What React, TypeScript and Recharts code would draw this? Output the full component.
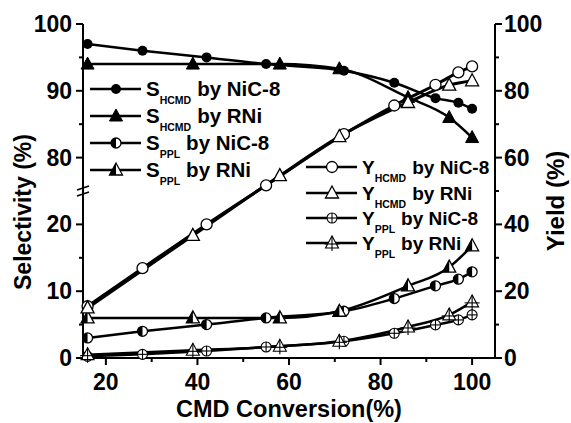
import React from "react";
import { Legend, Line, LineChart, XAxis, YAxis } from "recharts";

// conversions (%) per catalyst
const nicConv = [16, 28, 42, 55, 72, 83, 92, 97, 100];
const rniConv = [16, 39, 58, 71, 86, 95, 100];

// selectivity (%), left broken axis
const sHcmdNic = [97, 96, 95, 94, 93, 91.2, 88.9, 88.2, 87.3];
const sPplNic = [3, 4, 5, 6, 7, 8.9, 10.8, 11.8, 12.9];
const sHcmdRni = [94, 94, 94, 93.3, 89, 86, 83];
const sPplRni = [6, 6, 6, 7, 10.8, 13.6, 16.8];

// yield (%), right axis
const yHcmdNic = [15.5, 26.9, 40, 51.7, 67, 75.6, 81.8, 85.5, 87.3];
const yPplNic = [0.5, 1.1, 2.1, 3.3, 5, 7.4, 9.9, 11.4, 12.9];
const yHcmdRni = [15, 36.7, 54.6, 66.3, 76.5, 81.7, 83];
const yPplRni = [1, 2.3, 3.5, 5, 9.3, 12.9, 16.8];

const xTicks = [20, 30, 40, 50, 60, 70, 80, 90, 100];
const rightTicks = [0, 10, 20, 30, 40, 50, 60, 70, 80, 90, 100];
// left axis is broken: 0-25 on the lower half, 75-100 on the upper half (display 50 = break)
const leftDisplayTicks = [0, 10, 20, 30, 40, 50, 60, 70, 80, 90, 100];

const FONT = "Arial, 'Liberation Sans', sans-serif";

// map a selectivity value to the shared 0-100 display scale
const brk = (v: number) => (v <= 25 ? v * 2 : v * 2 - 100);

const pts = (xs: number[], ys: number[], f: (v: number) => number = (v) => v) =>
  xs.map((x, i) => ({ x, y: f(ys[i]) }));

type Kind = "fc" | "ft" | "hc" | "ht" | "oc" | "ot" | "xc" | "xt";

function Marker({ kind, cx, cy }: { kind: Kind; cx: number; cy: number }) {
  const r = 5;
  const s = 6.5;
  const tri = `${cx},${cy - 7} ${cx - s},${cy + 5} ${cx + s},${cy + 5}`;
  const sw = 1.3;
  switch (kind) {
    case "fc":
      return <circle cx={cx} cy={cy} r={r} fill="#000" />;
    case "ft":
      return <polygon points={tri} fill="#000" stroke="#000" strokeWidth={1} />;
    case "hc":
      return (
        <g>
          <circle cx={cx} cy={cy} r={r} fill="#fff" stroke="#000" strokeWidth={sw} />
          <path d={`M${cx},${cy - r} A${r},${r} 0 0 0 ${cx},${cy + r} Z`} fill="#000" />
        </g>
      );
    case "ht":
      return (
        <g>
          <polygon points={tri} fill="#fff" stroke="#000" strokeWidth={sw} />
          <polygon points={`${cx},${cy - 7} ${cx - s},${cy + 5} ${cx},${cy + 5}`} fill="#000" />
        </g>
      );
    case "oc":
      return <circle cx={cx} cy={cy} r={5.5} fill="#fff" stroke="#000" strokeWidth={sw} />;
    case "ot":
      return <polygon points={tri} fill="#fff" stroke="#000" strokeWidth={sw} />;
    case "xc":
      return (
        <g stroke="#000" strokeWidth={1.1}>
          <circle cx={cx} cy={cy} r={r} fill="#fff" />
          <line x1={cx} y1={cy - r} x2={cx} y2={cy + r} />
          <line x1={cx - r} y1={cy} x2={cx + r} y2={cy} />
        </g>
      );
    case "xt":
      return (
        <g stroke="#000" strokeWidth={1.1}>
          <polygon points={tri} fill="#fff" />
          <line x1={cx} y1={cy - 7} x2={cx} y2={cy + 8} />
          <line x1={cx - s - 1} y1={cy + 1} x2={cx + s + 1} y2={cy + 1} />
        </g>
      );
  }
}

const dotOf = (kind: Kind) => (p: any) =>
  <Marker key={`${kind}-${p.index}`} kind={kind} cx={p.cx} cy={p.cy} />;

function XTickBottom(props: any) {
  const { x, y, payload } = props;
  const major = payload.value % 20 === 0;
  return (
    <g>
      <line x1={x} y1={y} x2={x} y2={y + (major ? 7 : 4)} stroke="#000" strokeWidth={2} />
      {major && (
        <text x={x} y={y + 32} textAnchor="middle" fontFamily={FONT} fontWeight="bold" fontSize={23} fill="#000">
          {payload.value}
        </text>
      )}
    </g>
  );
}

function XTickTop(props: any) {
  const { x, y, payload } = props;
  const major = payload.value % 20 === 0;
  return <line x1={x} y1={y} x2={x} y2={y + (major ? 7 : 4)} stroke="#000" strokeWidth={2} />;
}

function LeftTick(props: any) {
  const { x, y, payload } = props;
  const d = payload.value;
  const v = d < 50 ? d / 2 : d / 2 + 50;
  if (d === 50) {
    return (
      <g stroke="#000" strokeWidth={1.6}>
        <line x1={x - 6} y1={y - 1} x2={x + 6} y2={y - 5} />
        <line x1={x - 6} y1={y + 5} x2={x + 6} y2={y + 1} />
      </g>
    );
  }
  const major = v % 10 === 0;
  return (
    <g>
      <line x1={x} y1={y} x2={x - (major ? 7 : 4)} y2={y} stroke="#000" strokeWidth={2} />
      {major && (
        <text x={x - 11} y={y + 8} textAnchor="end" fontFamily={FONT} fontWeight="bold" fontSize={23} fill="#000">
          {v}
        </text>
      )}
    </g>
  );
}

function RightTick(props: any) {
  const { x, y, payload } = props;
  const major = payload.value % 20 === 0;
  return (
    <g>
      <line x1={x} y1={y} x2={x + (major ? 7 : 4)} y2={y} stroke="#000" strokeWidth={2} />
      {major && (
        <text x={x + 9} y={y + 8} textAnchor="start" fontFamily={FONT} fontWeight="bold" fontSize={23} fill="#000">
          {payload.value}
        </text>
      )}
    </g>
  );
}

type Item = { kind: Kind; main: string; sub: string; cat: string };

const legendLeft: Item[] = [
  { kind: "fc", main: "S", sub: "HCMD", cat: "by NiC-8" },
  { kind: "ft", main: "S", sub: "HCMD", cat: "by RNi" },
  { kind: "hc", main: "S", sub: "PPL", cat: "by NiC-8" },
  { kind: "ht", main: "S", sub: "PPL", cat: "by RNi" },
];
const legendRight: Item[] = [
  { kind: "oc", main: "Y", sub: "HCMD", cat: "by NiC-8" },
  { kind: "ot", main: "Y", sub: "HCMD", cat: "by RNi" },
  { kind: "xc", main: "Y", sub: "PPL", cat: "by NiC-8" },
  { kind: "xt", main: "Y", sub: "PPL", cat: "by RNi" },
];

function LegendBox({ x0, ys, items, fs, subFs }: { x0: number; ys: number[]; items: Item[]; fs: number; subFs: number }) {
  return (
    <g>
      {items.map((it, i) => (
        <g key={i}>
          <line x1={x0} y1={ys[i]} x2={x0 + 51} y2={ys[i]} stroke="#000" strokeWidth={2.5} />
          <Marker kind={it.kind} cx={x0 + 26} cy={ys[i]} />
          <text x={x0 + 56} y={ys[i] + 7} fontFamily={FONT} fontWeight="bold" fontSize={fs} fill="#000">
            <tspan>{it.main}</tspan>
            <tspan fontSize={subFs} dy={8}>{it.sub}</tspan>
            <tspan dy={-8} dx={6}>{it.cat}</tspan>
          </text>
        </g>
      ))}
    </g>
  );
}

function Legends() {
  return (
    <svg width={571} height={423} style={{ position: "absolute", left: 0, top: 0 }}>
      <LegendBox x0={90} ys={[89, 116, 143, 170]} items={legendLeft} fs={20.5} subFs={10.5} />
      <LegendBox x0={306} ys={[167, 193, 218, 243]} items={legendRight} fs={19} subFs={10.5} />
    </svg>
  );
}

export default function App() {
  return (
    <div style={{ position: "absolute", left: 0, top: 0, width: 571, height: 423, background: "#fff" }}>
      <LineChart width={571} height={423} margin={{ top: 24, right: 0, bottom: 0, left: 0 }}>
        <XAxis
          xAxisId="bottom"
          dataKey="x"
          type="number"
          domain={[15, 105]}
          ticks={xTicks}
          interval={0}
          height={65}
          tickSize={0}
          tickMargin={0}
          tickLine={false}
          tick={<XTickBottom />}
          axisLine={{ stroke: "#000", strokeWidth: 2 }}
          label={{
            content: () => (
              <text x={289} y={417} textAnchor="middle" fontFamily={FONT} fontWeight="bold" fontSize={23.5} fill="#000">
                CMD Conversion(%)
              </text>
            ),
          }}
        />
        <XAxis
          xAxisId="top"
          orientation="top"
          dataKey="x"
          type="number"
          domain={[15, 105]}
          ticks={xTicks}
          interval={0}
          height={0}
          tickSize={0}
          tickMargin={0}
          tickLine={false}
          tick={<XTickTop />}
          axisLine={{ stroke: "#000", strokeWidth: 2 }}
        />
        <YAxis
          yAxisId="left"
          type="number"
          domain={[0, 100]}
          ticks={leftDisplayTicks}
          interval={0}
          width={83}
          tickSize={0}
          tickMargin={0}
          tickLine={false}
          tick={<LeftTick />}
          axisLine={{ stroke: "#000", strokeWidth: 2 }}
          label={{
            content: () => (
              <text
                x={31}
                y={212}
                transform="rotate(-90, 31, 212)"
                textAnchor="middle"
                fontFamily={FONT}
                fontWeight="bold"
                fontSize={23}
                fill="#000"
              >
                Selectivity (%)
              </text>
            ),
          }}
        />
        <YAxis
          yAxisId="right"
          orientation="right"
          type="number"
          domain={[0, 100]}
          ticks={rightTicks}
          interval={0}
          width={76}
          tickSize={0}
          tickMargin={0}
          tickLine={false}
          tick={<RightTick />}
          axisLine={{ stroke: "#000", strokeWidth: 2 }}
          label={{
            content: () => (
              <text
                x={564}
                y={201}
                transform="rotate(-90, 564, 201)"
                textAnchor="middle"
                fontFamily={FONT}
                fontWeight="bold"
                fontSize={24}
                fill="#000"
              >
                Yield (%)
              </text>
            ),
          }}
        />

        <Line xAxisId="bottom" yAxisId="left" data={pts(nicConv, sHcmdNic, brk)} dataKey="y" type="monotone"
          stroke="#000" strokeWidth={2.5} dot={dotOf("fc")} isAnimationActive={false} />
        <Line xAxisId="bottom" yAxisId="left" data={pts(rniConv, sHcmdRni, brk)} dataKey="y" type="monotone"
          stroke="#000" strokeWidth={2.5} dot={dotOf("ft")} isAnimationActive={false} />
        <Line xAxisId="bottom" yAxisId="left" data={pts(nicConv, sPplNic, brk)} dataKey="y" type="monotone"
          stroke="#000" strokeWidth={2.5} dot={dotOf("hc")} isAnimationActive={false} />
        <Line xAxisId="bottom" yAxisId="left" data={pts(rniConv, sPplRni, brk)} dataKey="y" type="monotone"
          stroke="#000" strokeWidth={2.5} dot={dotOf("ht")} isAnimationActive={false} />
        <Line xAxisId="bottom" yAxisId="right" data={pts(nicConv, yPplNic)} dataKey="y" type="monotone"
          stroke="#000" strokeWidth={2.5} dot={dotOf("xc")} isAnimationActive={false} />
        <Line xAxisId="bottom" yAxisId="right" data={pts(rniConv, yPplRni)} dataKey="y" type="monotone"
          stroke="#000" strokeWidth={2.5} dot={dotOf("xt")} isAnimationActive={false} />
        <Line xAxisId="bottom" yAxisId="right" data={pts(nicConv, yHcmdNic)} dataKey="y" type="monotone"
          stroke="#000" strokeWidth={3} dot={dotOf("oc")} isAnimationActive={false} />
        <Line xAxisId="bottom" yAxisId="right" data={pts(rniConv, yHcmdRni)} dataKey="y" type="monotone"
          stroke="#000" strokeWidth={3} dot={dotOf("ot")} isAnimationActive={false} />

        <Legend
          verticalAlign="middle"
          align="center"
          layout="horizontal"
          wrapperStyle={{ left: 0, top: 0, width: 571, height: 423, pointerEvents: "none" }}
          content={() => <Legends />}
        />
      </LineChart>
    </div>
  );
}
